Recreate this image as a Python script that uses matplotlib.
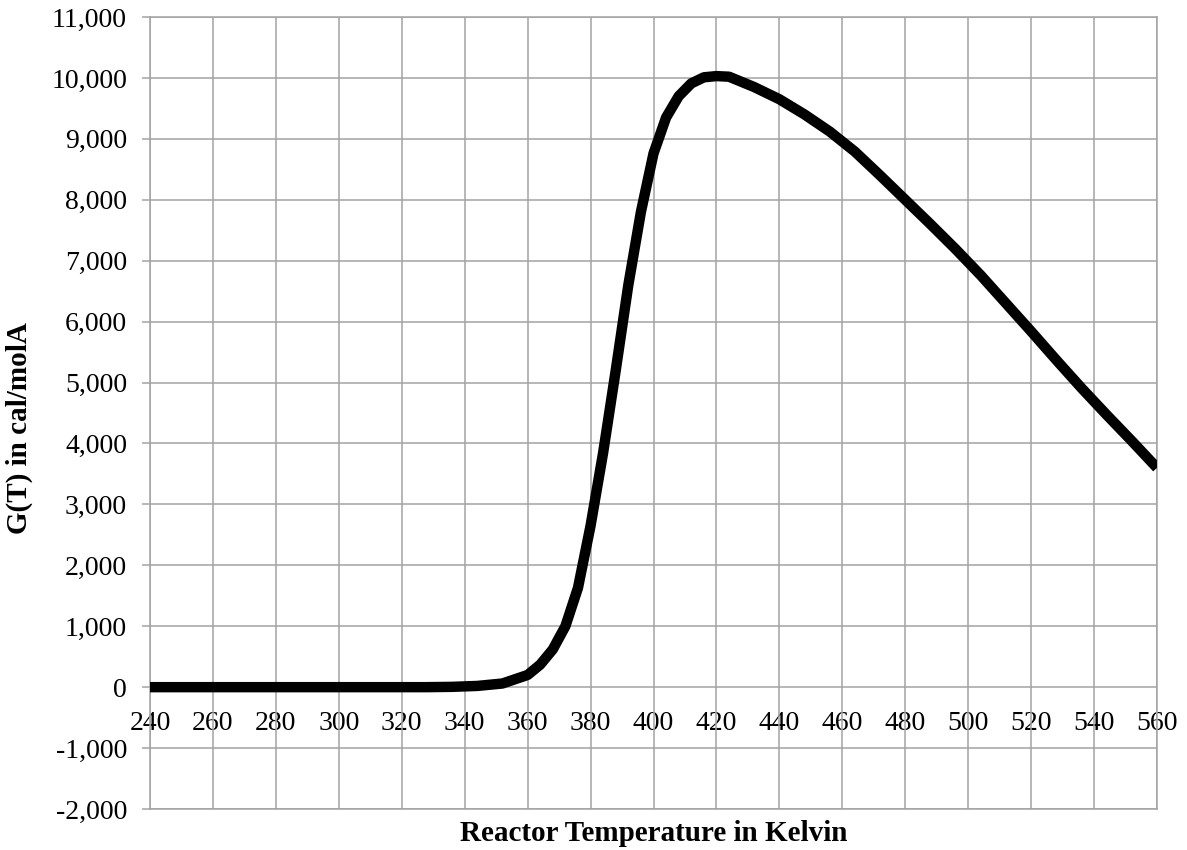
import numpy as np
import matplotlib.pyplot as plt
from matplotlib.ticker import FuncFormatter

# reactor temperature (K); denser sampling where the curve bends sharply
temps = [240, 248, 256, 264, 272, 280, 288, 296, 304, 312, 320, 328, 336,
         344, 352, 360, 364, 368, 372, 376, 380, 384, 388, 392, 396, 400,
         404, 408, 412, 416, 420, 424, 432, 440, 448, 456, 464, 472, 480,
         488, 496, 504, 512, 520, 528, 536, 544, 552, 560]
# G(T) in cal/molA
g_values = [0, 0, 0, 0, 0, 0, 0, 0, 0, 0, 0, 0, 5,
            20, 60, 200, 370, 620, 1000, 1630, 2650, 3850, 5200, 6600, 7800, 8760,
            9350, 9700, 9910, 10010, 10030, 10020, 9850, 9650, 9400, 9120, 8790, 8400, 8000,
            7600, 7190, 6760, 6300, 5840, 5370, 4910, 4470, 4040, 3600]

x_ticks = np.arange(240, 561, 20)
y_ticks = np.arange(-2000, 11001, 1000)

plt.rcParams['font.family'] = ['Liberation Serif', 'DejaVu Serif']
grid_col = '#a3a3a3'

fig = plt.figure(figsize=(11.87, 8.5), dpi=100)
ax = fig.add_axes([150 / 1187, 1 - 809 / 850, 1007 / 1187, 792 / 850])

ax.plot(temps, g_values, color='black', lw=7.5, solid_joinstyle='round',
        solid_capstyle='butt', zorder=3)

ax.set_xlim(240, 560)
ax.set_ylim(-2000, 11000)
ax.set_xticks(x_ticks)
ax.set_yticks(y_ticks)
ax.grid(True, color=grid_col, lw=1.1)
ax.set_axisbelow(True)

for s in ax.spines.values():
    s.set_color(grid_col)
    s.set_linewidth(1.1)

ax.yaxis.set_major_formatter(FuncFormatter(lambda v, p: f"{int(v):,}"))
ax.tick_params(axis='y', length=5.5, width=1.1, color=grid_col, pad=11,
               labelsize=20)
ax.tick_params(axis='x', length=0, labelbottom=False)

# x tick labels sit along the zero line
sec = ax.secondary_xaxis(2000 / 13000)
sec.set_xticks(x_ticks)
sec.spines['bottom'].set_visible(False)
sec.tick_params(length=0, pad=17, labelsize=20)

ax.set_xlabel('Reactor Temperature in Kelvin', fontsize=21, fontweight='bold')
ax.xaxis.set_label_coords(0.5, -0.014)
ax.set_ylabel('G(T) in cal/molA', fontsize=21, fontweight='bold')
ax.yaxis.set_label_coords(-0.116, 0.481)

fig.savefig('out.png', dpi=100)
